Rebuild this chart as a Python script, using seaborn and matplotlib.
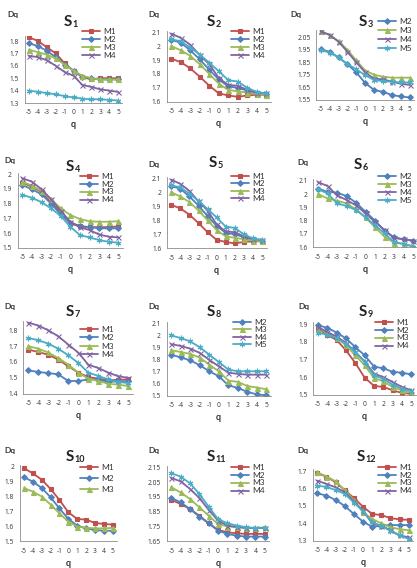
import matplotlib
matplotlib.use("Agg")
import matplotlib.pyplot as plt
import seaborn as sns
from matplotlib.lines import Line2D

sns.set_theme(style="white")
plt.rcParams["font.family"] = ["Lato", "DejaVu Sans"]

q = [-5, -4, -3, -2, -1, 0, 1, 2, 3, 4, 5]
q_labels = ["-5", "-4", "-3", "-2", "-1", "0", "1", "2", "3", "4", "5"]

# ---------------- data ----------------
S1_M1 = [1.83, 1.80, 1.75, 1.70, 1.62, 1.56, 1.51, 1.49, 1.50, 1.50, 1.50]
S1_M2 = [1.78, 1.76, 1.72, 1.67, 1.61, 1.56, 1.51, 1.50, 1.49, 1.49, 1.49]
S1_M3 = [1.73, 1.71, 1.69, 1.66, 1.61, 1.56, 1.52, 1.50, 1.49, 1.49, 1.49]
S1_M4 = [1.68, 1.67, 1.645, 1.60, 1.55, 1.52, 1.445, 1.43, 1.41, 1.40, 1.39]
S1_M5 = [1.40, 1.39, 1.38, 1.37, 1.355, 1.345, 1.335, 1.33, 1.33, 1.325, 1.32]

S2_M1 = [1.91, 1.885, 1.84, 1.78, 1.715, 1.66, 1.645, 1.635, 1.645, 1.65, 1.65]
S2_M2 = [2.045, 2.025, 1.97, 1.905, 1.83, 1.76, 1.71, 1.70, 1.68, 1.66, 1.655]
S2_M3 = [2.0, 1.97, 1.93, 1.87, 1.80, 1.73, 1.685, 1.675, 1.665, 1.655, 1.65]
S2_M4 = [2.09, 2.06, 2.01, 1.935, 1.87, 1.77, 1.72, 1.715, 1.685, 1.665, 1.66]
S2_M5 = [2.05, 2.035, 1.99, 1.94, 1.88, 1.82, 1.755, 1.745, 1.70, 1.67, 1.66]

S3_M2 = [1.955, 1.935, 1.89, 1.835, 1.77, 1.685, 1.63, 1.615, 1.59, 1.578, 1.57]
S3_M3 = [2.10, 2.07, 2.02, 1.95, 1.865, 1.785, 1.752, 1.736, 1.728, 1.728, 1.728]
S3_M4 = [2.097, 2.068, 2.015, 1.935, 1.85, 1.77, 1.72, 1.715, 1.696, 1.68, 1.67]
S3_M5 = [1.95, 1.928, 1.89, 1.837, 1.795, 1.747, 1.71, 1.70, 1.696, 1.69, 1.69]

S4_M1 = [1.943, 1.916, 1.88, 1.807, 1.74, 1.666, 1.645, 1.64, 1.64, 1.64, 1.645]
S4_M2 = [1.927, 1.898, 1.864, 1.80, 1.727, 1.67, 1.648, 1.64, 1.632, 1.632, 1.632]
S4_M3 = [1.95, 1.923, 1.886, 1.83, 1.768, 1.723, 1.695, 1.68, 1.677, 1.677, 1.68]
S4_M4 = [1.973, 1.95, 1.898, 1.83, 1.752, 1.677, 1.64, 1.62, 1.59, 1.575, 1.57]
S4_M5 = [1.86, 1.84, 1.81, 1.768, 1.716, 1.643, 1.586, 1.57, 1.552, 1.54, 1.534]

S5_M1 = [1.91, 1.885, 1.84, 1.78, 1.715, 1.66, 1.645, 1.635, 1.645, 1.65, 1.65]
S5_M2 = [2.045, 2.025, 1.97, 1.905, 1.83, 1.76, 1.71, 1.70, 1.68, 1.66, 1.655]
S5_M3 = [2.0, 1.97, 1.93, 1.87, 1.80, 1.73, 1.685, 1.675, 1.665, 1.655, 1.65]
S5_M4 = [2.09, 2.06, 2.01, 1.935, 1.87, 1.77, 1.72, 1.715, 1.685, 1.665, 1.66]
S5_M5 = [2.05, 2.035, 1.99, 1.94, 1.88, 1.82, 1.755, 1.745, 1.70, 1.67, 1.66]

S6_M2 = [2.04, 2.017, 2.01, 1.985, 1.935, 1.867, 1.80, 1.725, 1.675, 1.66, 1.65]
S6_M3 = [2.0, 1.967, 1.95, 1.93, 1.885, 1.825, 1.75, 1.68, 1.635, 1.625, 1.61]
S6_M4 = [2.09, 2.06, 1.99, 1.955, 1.915, 1.855, 1.79, 1.73, 1.67, 1.66, 1.65]
S6_M5 = [2.035, 2.005, 1.93, 1.91, 1.88, 1.825, 1.765, 1.705, 1.64, 1.625, 1.605]

S7_M1 = [1.678, 1.663, 1.646, 1.615, 1.573, 1.533, 1.505, 1.495, 1.484, 1.488, 1.49]
S7_M2 = [1.547, 1.537, 1.53, 1.522, 1.48, 1.48, 1.49, 1.49, 1.474, 1.478, 1.478]
S7_M3 = [1.70, 1.684, 1.66, 1.625, 1.583, 1.533, 1.495, 1.48, 1.463, 1.457, 1.448]
S7_M4 = [1.848, 1.83, 1.80, 1.762, 1.71, 1.659, 1.583, 1.562, 1.533, 1.51, 1.50]
S7_M5 = [1.752, 1.737, 1.716, 1.684, 1.642, 1.594, 1.533, 1.512, 1.49, 1.474, 1.467]

S8_M2 = [1.843, 1.82, 1.796, 1.755, 1.705, 1.664, 1.589, 1.567, 1.534, 1.514, 1.505]
S8_M3 = [1.879, 1.865, 1.849, 1.818, 1.76, 1.705, 1.628, 1.617, 1.583, 1.57, 1.556]
S8_M4 = [1.93, 1.915, 1.893, 1.857, 1.80, 1.746, 1.694, 1.683, 1.677, 1.677, 1.677]
S8_M5 = [2.003, 1.98, 1.953, 1.904, 1.843, 1.782, 1.72, 1.705, 1.705, 1.705, 1.705]

S9_M1 = [1.875, 1.84, 1.81, 1.752, 1.68, 1.597, 1.55, 1.544, 1.525, 1.51, 1.505]
S9_M2 = [1.894, 1.88, 1.853, 1.82, 1.77, 1.724, 1.66, 1.65, 1.63, 1.625, 1.615]
S9_M3 = [1.88, 1.85, 1.822, 1.78, 1.724, 1.667, 1.595, 1.576, 1.544, 1.525, 1.51]
S9_M4 = [1.885, 1.856, 1.83, 1.795, 1.742, 1.69, 1.62, 1.60, 1.572, 1.544, 1.525]
S9_M5 = [1.853, 1.84, 1.822, 1.79, 1.742, 1.686, 1.61, 1.59, 1.557, 1.534, 1.52]

S10_M1 = [1.99, 1.955, 1.913, 1.85, 1.777, 1.694, 1.65, 1.645, 1.623, 1.616, 1.612]
S10_M2 = [1.929, 1.90, 1.857, 1.795, 1.72, 1.65, 1.605, 1.587, 1.576, 1.571, 1.571]
S10_M3 = [1.857, 1.833, 1.80, 1.746, 1.687, 1.632, 1.598, 1.59, 1.587, 1.587, 1.59]

S11_M1 = [1.93, 1.902, 1.868, 1.823, 1.772, 1.727, 1.711, 1.704, 1.70, 1.70, 1.70]
S11_M2 = [1.943, 1.913, 1.868, 1.817, 1.772, 1.722, 1.70, 1.688, 1.682, 1.682, 1.682]
S11_M3 = [2.015, 1.98, 1.936, 1.88, 1.823, 1.767, 1.75, 1.749, 1.74, 1.74, 1.745]
S11_M4 = [2.078, 2.055, 2.004, 1.943, 1.862, 1.79, 1.756, 1.745, 1.74, 1.74, 1.74]
S11_M5 = [2.11, 2.087, 2.042, 1.97, 1.884, 1.80, 1.772, 1.756, 1.745, 1.74, 1.74]

S12_M1 = [1.688, 1.67, 1.636, 1.592, 1.546, 1.496, 1.454, 1.448, 1.43, 1.423, 1.42]
S12_M2 = [1.573, 1.56, 1.535, 1.50, 1.454, 1.41, 1.38, 1.386, 1.39, 1.39, 1.39]
S12_M3 = [1.694, 1.67, 1.642, 1.592, 1.535, 1.463, 1.425, 1.40, 1.377, 1.367, 1.36]
S12_M4 = [1.646, 1.627, 1.608, 1.58, 1.527, 1.473, 1.40, 1.386, 1.36, 1.33, 1.32]
S12_M5 = [1.617, 1.61, 1.592, 1.57, 1.52, 1.47, 1.406, 1.386, 1.357, 1.33, 1.31]

# y tick labels per panel
S1_yticks = ["1.3", "1.4", "1.5", "1.6", "1.7", "1.8"]
S2_yticks = ["1.6", "1.7", "1.8", "1.9", "2", "2.1"]
S3_yticks = ["1.55", "1.65", "1.75", "1.85", "1.95", "2.05"]
S4_yticks = ["1.5", "1.6", "1.7", "1.8", "1.9", "2"]
S5_yticks = ["1.6", "1.7", "1.8", "1.9", "2", "2.1"]
S6_yticks = ["1.6", "1.7", "1.8", "1.9", "2", "2.1"]
S7_yticks = ["1.4", "1.5", "1.6", "1.7", "1.8"]
S8_yticks = ["1.5", "1.6", "1.7", "1.8", "1.9", "2", "2.1"]
S9_yticks = ["1.5", "1.6", "1.7", "1.8", "1.9"]
S10_yticks = ["1.5", "1.6", "1.7", "1.8", "1.9", "2"]
S11_yticks = ["1.65", "1.75", "1.85", "1.95", "2.05", "2.15"]
S12_yticks = ["1.3", "1.4", "1.5", "1.6", "1.7"]

panels = [
    ("1", {"M1": S1_M1, "M2": S1_M2, "M3": S1_M3, "M4": S1_M4, "M5": S1_M5}, ["M1", "M2", "M3", "M4"], S1_yticks),
    ("2", {"M1": S2_M1, "M2": S2_M2, "M3": S2_M3, "M4": S2_M4, "M5": S2_M5}, ["M1", "M2", "M3", "M4"], S2_yticks),
    ("3", {"M2": S3_M2, "M3": S3_M3, "M4": S3_M4, "M5": S3_M5}, ["M2", "M3", "M4", "M5"], S3_yticks),
    ("4", {"M1": S4_M1, "M2": S4_M2, "M3": S4_M3, "M4": S4_M4, "M5": S4_M5}, ["M1", "M2", "M3", "M4"], S4_yticks),
    ("5", {"M1": S5_M1, "M2": S5_M2, "M3": S5_M3, "M4": S5_M4, "M5": S5_M5}, ["M1", "M2", "M3", "M4"], S5_yticks),
    ("6", {"M2": S6_M2, "M3": S6_M3, "M4": S6_M4, "M5": S6_M5}, ["M2", "M3", "M4", "M5"], S6_yticks),
    ("7", {"M1": S7_M1, "M2": S7_M2, "M3": S7_M3, "M4": S7_M4, "M5": S7_M5}, ["M1", "M2", "M3", "M4"], S7_yticks),
    ("8", {"M2": S8_M2, "M3": S8_M3, "M4": S8_M4, "M5": S8_M5}, ["M2", "M3", "M4", "M5"], S8_yticks),
    ("9", {"M1": S9_M1, "M2": S9_M2, "M3": S9_M3, "M4": S9_M4, "M5": S9_M5}, ["M1", "M2", "M3", "M4"], S9_yticks),
    ("10", {"M1": S10_M1, "M2": S10_M2, "M3": S10_M3}, ["M1", "M2", "M3"], S10_yticks),
    ("11", {"M1": S11_M1, "M2": S11_M2, "M3": S11_M3, "M4": S11_M4, "M5": S11_M5}, ["M1", "M2", "M3", "M4"], S11_yticks),
    ("12", {"M1": S12_M1, "M2": S12_M2, "M3": S12_M3, "M4": S12_M4, "M5": S12_M5}, ["M1", "M2", "M3", "M4"], S12_yticks),
]

# ---------------- styles / layout ----------------
colors = {"M1": "#C0504D", "M2": "#4F81BD", "M3": "#9BBB59", "M4": "#8064A2", "M5": "#4BACC6"}
markers = {"M1": "s", "M2": "D", "M3": "^", "M4": "x", "M5": (6, 2, 0)}
msizes = {"M1": 3.4, "M2": 2.9, "M3": 3.6, "M4": 3.6, "M5": 4.0}

W, H = 417, 568
# pixel geometry: x of q=-5, x of q=5, y of top tick, y of bottom tick
geo = [
    (29, 118, 41, 103), (171.3, 266.3, 32.3, 101.7), (320.7, 409.7, 37.3, 100),
    (22.3, 118.3, 174.3, 247.7), (171.3, 262, 178.3, 248.3), (318, 413, 180.7, 247.3),
    (28.3, 128.3, 330.3, 393.7), (171.3, 266.3, 323.7, 396), (318, 411.3, 324.3, 394.7),
    (24, 112.7, 466.7, 541.3), (171.3, 264.7, 467.3, 541.3), (317.3, 408.7, 471.3, 540.7),
]
# Dq label position, title centre, legend (handle x, centre y, row spacing)
dq_pos = [(13, 15), (154, 15), (296, 15), (10, 161), (154, 164), (303, 163),
          (10, 307), (154, 307), (304, 307), (10, 451), (154, 451), (303, 451)]
title_pos = [(68, 22), (211, 22), (363, 22), (70, 167), (213, 163), (358, 165),
             (70, 312), (211, 312), (363, 312), (70, 457), (211, 457), (361, 457)]
leg_pos = [(82, 43.5, 11), (231, 43.5, 11), (378, 35, 12),
           (80, 188, 10.7), (231, 187.5, 10.3), (378, 188.5, 11),
           (80, 342, 11.3), (233, 333.5, 10.3), (375, 334, 10.7),
           (80, 478.5, 13.5), (231, 479, 10.7), (378, 479, 10.7)]

fig = plt.figure(figsize=(W / 100, H / 100), dpi=100)
fig.patch.set_facecolor("white")

axis_col = "#8C8C8C"
text_col = "#333333"
tick_font = ["Open Sans", "DejaVu Sans"]
leg_fs = 6.0

for i, (num, series, legend_names, ytl) in enumerate(panels):
    xm5, xp5, yt, yb = geo[i]
    bin_w = (xp5 - xm5) / 10
    left_px = xm5 - bin_w / 2
    right_px = xp5 + bin_w / 2
    tvals = [float(t) for t in ytl]
    tmin, tmax = tvals[0], tvals[-1]
    ppu = (yb - yt) / (tmax - tmin)
    dmax = max(max(v) for v in series.values())
    ytop = max(tmax, dmax) + 0.012
    top_px = yt - (ytop - tmax) * ppu

    ax = fig.add_axes([left_px / W, 1 - yb / H, (right_px - left_px) / W, (yb - top_px) / H])
    ax.set_facecolor("none")
    for name, vals in series.items():
        c = colors[name]
        sns.lineplot(x=q, y=vals, ax=ax, color=c, linewidth=1.3,
                     marker=markers[name], markersize=msizes[name],
                     markeredgecolor=c, markerfacecolor=c, markeredgewidth=0.8,
                     legend=False)
    ax.set_xlim(-5.5, 5.5)
    ax.set_ylim(tmin, ytop)
    ax.set_xticks(q)
    ax.set_xticklabels(q_labels, family=tick_font)
    ax.set_yticks(tvals)
    ax.set_yticklabels(ytl, family=tick_font)
    ax.tick_params(axis="both", labelsize=4.8, colors=text_col, length=2, width=0.5,
                   pad=2.5, color=axis_col)
    ax.tick_params(axis="y", length=0, pad=4)
    for s in ["top", "right"]:
        ax.spines[s].set_visible(False)
    for s in ["left", "bottom"]:
        ax.spines[s].set_color(axis_col)
        ax.spines[s].set_linewidth(0.6)
    ax.set_xlabel("q", fontsize=6.5, fontweight="bold", color=text_col, labelpad=3)
    ax.set_ylabel("")

    # Dq label
    dx, dy = dq_pos[i]
    fig.text(dx / W, 1 - dy / H, "Dq", fontsize=6, fontweight="bold", color=text_col,
             ha="center", va="center")
    # Title S with subscript number
    tx, ty = title_pos[i]
    t = fig.text(tx / W, 1 - ty / H, "S", fontsize=11, fontweight="bold", color="#222222",
                 ha="center", va="center")
    ax.annotate(num, xy=(1.0, 0.0), xycoords=t, xytext=(0.3, 0.0),
                textcoords="offset points", fontsize=6.5, fontweight="bold",
                color="#222222", ha="left", va="bottom", annotation_clip=False)

    # Legend
    lx, ly, sp = leg_pos[i]
    handles = [Line2D([0], [0], color=colors[n], lw=1.3, marker=markers[n],
                      markersize=msizes[n], markeredgecolor=colors[n],
                      markerfacecolor=colors[n], markeredgewidth=0.8)
               for n in legend_names]
    fs_px = leg_fs * 100 / 72
    lab_sp = max((sp - fs_px * 1.17) / fs_px, 0.0)
    ax.legend(handles, legend_names, loc="center left",
              bbox_to_anchor=(lx / W, 1 - ly / H), bbox_transform=fig.transFigure,
              frameon=False, fontsize=leg_fs, handlelength=2.2, handletextpad=0.4,
              labelspacing=lab_sp, borderpad=0, borderaxespad=0, labelcolor=text_col)

fig.savefig("out.png", dpi=100, facecolor="white")
